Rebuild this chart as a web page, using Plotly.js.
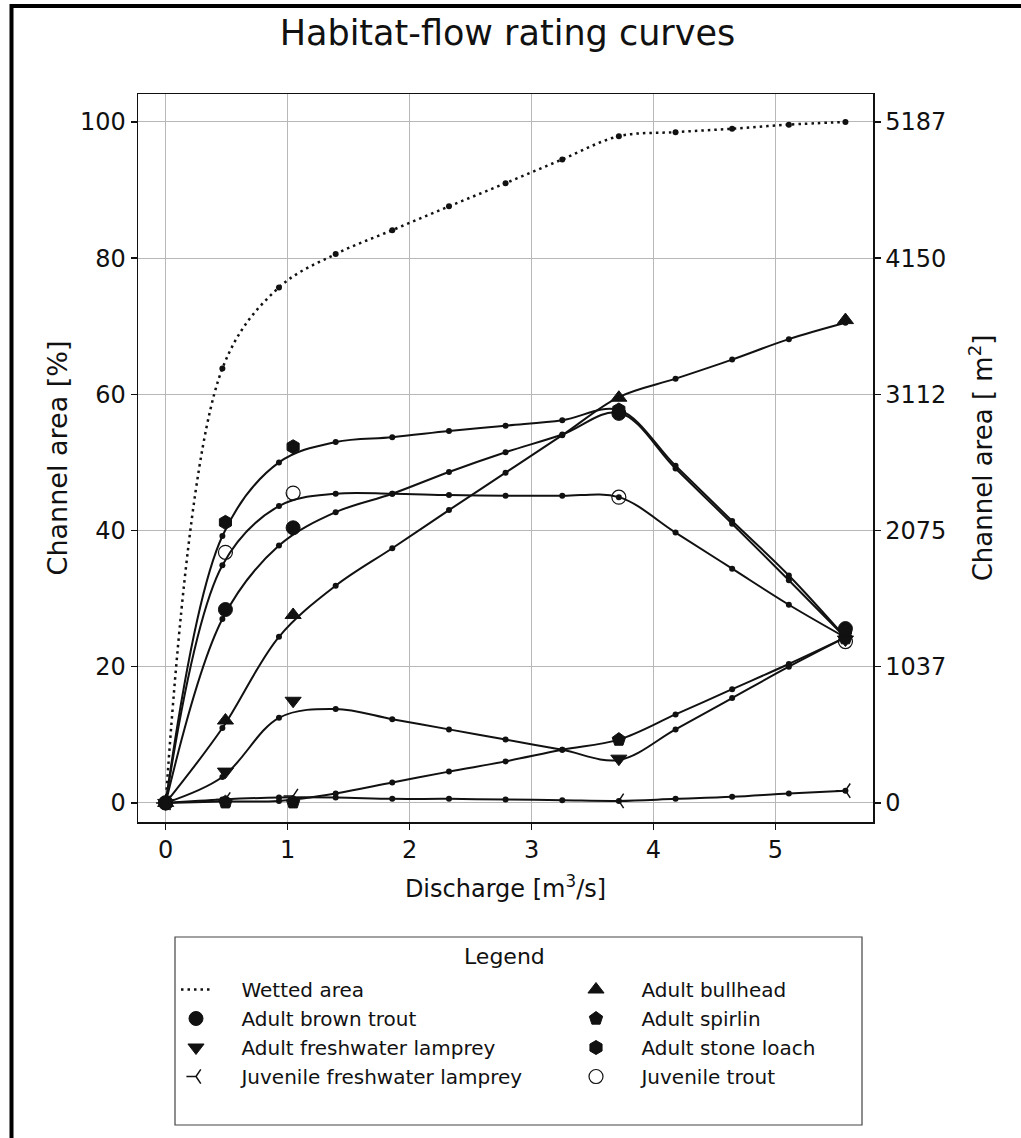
<!DOCTYPE html>
<html>
<head>
<meta charset="utf-8">
<script src="https://cdn.plot.ly/plotly-3.0.1.min.js"></script>
<style>
html, body { margin: 0; padding: 0; background: #fff; }
#chart { width: 1021px; height: 1138px; }
</style>
</head>
<body>
<div id="chart"></div>
<script>
// ---------- data ----------
const discharge = [0, 0.465, 0.929, 1.394, 1.858, 2.323, 2.787, 3.252, 3.716, 4.181, 4.645, 5.110, 5.574];
const wettedArea = [0, 63.8, 75.7, 80.6, 84.1, 87.6, 91.0, 94.5, 97.9, 98.5, 99.0, 99.6, 100.0];

const brownTrout   = [0, 27.0, 37.8, 42.7, 45.4, 48.6, 51.5, 54.1, 57.3, 49.1, 41.0, 32.7, 24.3];
const fwLamprey    = [0, 3.8, 12.5, 13.8, 12.3, 10.8, 9.3, 7.8, 6.3, 10.8, 15.4, 20.0, 24.3];
const juvLamprey   = [0, 0.5, 0.8, 0.8, 0.6, 0.6, 0.5, 0.4, 0.3, 0.6, 0.9, 1.4, 1.8];
const bullhead     = [0, 11.0, 24.4, 31.9, 37.4, 43.0, 48.5, 54.0, 59.6, 62.3, 65.1, 68.1, 70.5];
const spirlin      = [0, 0.2, 0.3, 1.4, 3.0, 4.6, 6.1, 7.8, 9.3, 13.0, 16.7, 20.4, 24.3];
const stoneLoach   = [0, 39.2, 50.0, 53.0, 53.7, 54.6, 55.4, 56.2, 57.7, 49.5, 41.4, 33.4, 24.3];
const juvTrout     = [0, 34.9, 43.6, 45.4, 45.4, 45.2, 45.1, 45.1, 44.9, 39.7, 34.4, 29.1, 24.3];

// observed (large marker) points
const obsDischarge   = [0, 0.49, 1.045, 3.716, 5.574];
const brownTroutObs  = [0, 28.4, 40.4, 57.2, 25.6];
const fwLampreyObs   = [0, 4.6, 15.0, 6.5, 24.0];
const juvLampreyObs  = [0, 0.5, 1.0, 0.3, 1.8];
const bullheadObs    = [0, 12.1, 27.6, 59.5, 70.9];
const spirlinObs     = [0, 0.1, 0.1, 9.3, 24.2];
const stoneLoachObs  = [0, 41.2, 52.3, 57.7, 25.3];
const juvTroutObs    = [0, 36.8, 45.5, 44.9, 23.7];

const leftTicks = [0, 20, 40, 60, 80, 100];
const rightTickText = ["0", "1037", "2075", "3112", "4150", "5187"];
const xTicks = [0, 1, 2, 3, 4, 5];

// ---------- style ----------
const FONT = "DejaVu Sans, Liberation Sans, sans-serif";
const INK = "#111";
const PAD = "\u00a0\u00a0\u00a0\u00a0";
const lineStyle = {color: INK, width: 2, shape: "spline", smoothing: 1};
const smallDot = {color: INK, size: 6, symbol: "circle"};

function curve(y) {
  return {x: discharge, y: y, type: "scatter", mode: "lines+markers",
          line: lineStyle, marker: smallDot, showlegend: false, hoverinfo: "skip"};
}
function obs(name, y, symbol, legend, extra) {
  const m = Object.assign({color: INK, size: 14, symbol: symbol, line: {color: INK, width: 1}}, extra || {});
  return {x: obsDischarge, y: y, type: "scatter", mode: "markers", name: PAD + name,
          marker: m, legend: legend, showlegend: true};
}

const traces = [
  {x: discharge, y: wettedArea, type: "scatter", mode: "lines", name: PAD + "Wetted area",
   line: {color: INK, width: 2.5, dash: "2.5px,4px", shape: "spline", smoothing: 1},
   legend: "legend", showlegend: true},
  // wetted-area points, drawn against the right (same scale) axis
  {x: discharge, y: wettedArea, type: "scatter", mode: "markers", yaxis: "y2",
   marker: smallDot, showlegend: false},
  curve(brownTrout), curve(fwLamprey), curve(juvLamprey), curve(bullhead),
  curve(spirlin), curve(stoneLoach), curve(juvTrout),
  obs("Adult brown trout", brownTroutObs, "circle", "legend"),
  obs("Adult freshwater lamprey", fwLampreyObs, "triangle-down", "legend"),
  obs("Juvenile freshwater lamprey", juvLampreyObs, "y-left", "legend",
      {size: 12, line: {color: INK, width: 1.5}}),
  obs("Adult bullhead", bullheadObs, "triangle-up", "legend2"),
  obs("Adult spirlin", spirlinObs, "pentagon", "legend2"),
  obs("Adult stone loach", stoneLoachObs, "hexagon", "legend2"),
  obs("Juvenile trout", juvTroutObs, "circle-open", "legend2",
      {color: INK, line: {color: INK, width: 1.2}})
];

// plot area in pixels (from reference): l=138, r=873, t=94, b=822
const axisCommon = {
  showline: true, linecolor: INK, linewidth: 1.5, mirror: true,
  ticks: "outside", ticklen: 6, tickwidth: 1.5, tickcolor: INK,
  showgrid: true, gridcolor: "#b8b8b8", gridwidth: 1, zeroline: false,
  tickfont: {family: FONT, size: 24, color: INK}, automargin: false
};

const layout = {
  width: 1021, height: 1138,
  paper_bgcolor: "#fff", plot_bgcolor: "#fff",
  margin: {l: 138, r: 148, t: 94, b: 316, autoexpand: false},
  font: {family: FONT, color: INK},
  title: {text: "Habitat-flow rating curves", x: 0.497, xref: "container",
          y: 1 - 33 / 1138, yref: "container", yanchor: "middle", xanchor: "center",
          font: {family: FONT, size: 35, color: INK}},
  xaxis: Object.assign({}, axisCommon, {
    range: [-0.227, 5.8], tickvals: xTicks,
    title: {text: "Discharge [m<sup>3</sup>/s]", font: {family: FONT, size: 24, color: INK}, standoff: 17}
  }),
  yaxis: Object.assign({}, axisCommon, {
    range: [-2.8, 104.1], tickvals: leftTicks, mirror: false,
    title: {text: "Channel area [%]", font: {family: FONT, size: 27, color: INK}, standoff: 4}
  }),
  yaxis2: Object.assign({}, axisCommon, {
    overlaying: "y", side: "right", range: [-2.8, 104.1], showgrid: false, mirror: false,
    tickvals: leftTicks, ticktext: rightTickText,
    title: {text: "Channel area [ m<sup>2</sup>]", font: {family: FONT, size: 26, color: INK}, standoff: 28}
  }),
  legend: {x: (176 - 138) / 735, y: -0.2033, xanchor: "left", yanchor: "top", orientation: "v",
           bgcolor: "rgba(0,0,0,0)", borderwidth: 0, traceorder: "normal",
           font: {family: FONT, size: 20, color: INK}, itemwidth: 30},
  legend2: {x: (576 - 138) / 735, y: -0.2033, xanchor: "left", yanchor: "top", orientation: "v",
            bgcolor: "rgba(0,0,0,0)", borderwidth: 0, traceorder: "normal",
            font: {family: FONT, size: 20, color: INK}, itemwidth: 30},
  annotations: [
    {text: "Legend", xref: "paper", yref: "paper", x: 0.499, y: (822 - 956) / 728,
     showarrow: false, xanchor: "center", yanchor: "middle",
     font: {family: FONT, size: 22, color: INK}}
  ],
  shapes: [
    {type: "rect", xref: "paper", yref: "paper",
     x0: (175 - 138) / 735, x1: (862 - 138) / 735, y0: (822 - 1125) / 728, y1: (822 - 937) / 728,
     line: {color: "#444", width: 1.2}, fillcolor: "rgba(0,0,0,0)", layer: "below"},
    {type: "line", xref: "paper", yref: "paper",
     x0: (11.5 - 138) / 735, x1: (11.5 - 138) / 735, y0: (822 - 1138) / 728, y1: (822 - 4) / 728,
     line: {color: "#000", width: 4}},
    {type: "line", xref: "paper", yref: "paper",
     x0: (10 - 138) / 735, x1: (1021 - 138) / 735, y0: (822 - 6) / 728, y1: (822 - 6) / 728,
     line: {color: "#000", width: 4}}
  ]
};

Plotly.newPlot("chart", traces, layout, {displayModeBar: false, staticPlot: true});
</script>
</body>
</html>
